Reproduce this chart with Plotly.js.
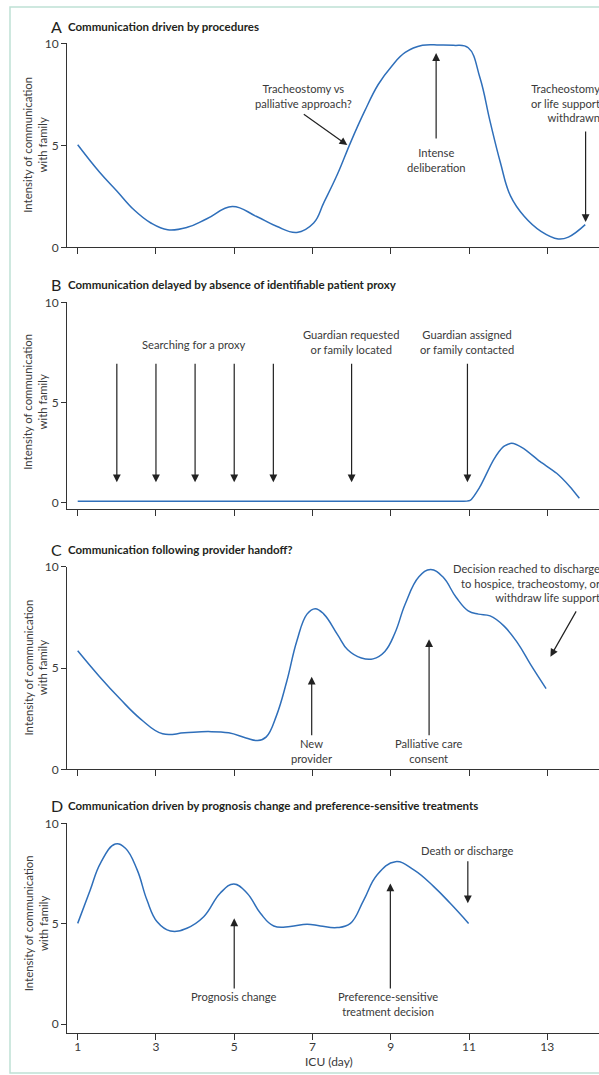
<!DOCTYPE html>
<html>
<head>
<meta charset="utf-8">
<script src="https://cdn.plot.ly/plotly-3.0.1.min.js"></script>
<style>
html,body{margin:0;padding:0;overflow:hidden;background:#fff;}
#chart{width:640px;height:1075px;}
</style>
</head>
<body>
<div id="chart"></div>
<script>
// ---- Data (ICU day vs intensity of communication with family) ----
const dayTicks = [1, 3, 5, 7, 9, 11, 13];
const intensityTicks = [0, 5, 10];

const daysA = [1.0, 1.56, 2.0, 2.43, 2.87, 3.3, 3.8, 4.3, 4.95, 5.56, 6.08, 6.6, 7.03, 7.29, 7.64, 7.98, 8.33, 8.68, 9.03, 9.37, 9.81, 10.24, 10.6, 10.98, 11.28, 11.54, 11.8, 12.06, 12.41, 12.84, 13.28, 13.54, 13.97];
const valsA = [5.03, 3.68, 2.76, 1.85, 1.19, 0.86, 0.98, 1.4, 2.0, 1.52, 1.03, 0.73, 1.19, 2.19, 3.59, 5.17, 6.66, 7.98, 8.89, 9.55, 9.9, 9.92, 9.9, 9.78, 8.31, 6.16, 4.17, 2.52, 1.52, 0.78, 0.41, 0.5, 1.11];

const daysB = [1, 4, 7, 10, 10.7, 11.03, 11.28, 11.62, 11.88, 12.09, 12.39, 12.82, 13.24, 13.58, 13.82];
const valsB = [0.05, 0.05, 0.05, 0.05, 0.05, 0.1, 0.78, 2.1, 2.78, 2.95, 2.7, 2.03, 1.45, 0.78, 0.2];

const daysC = [1.0, 1.56, 2.08, 2.61, 3.17, 3.73, 4.34, 4.86, 5.3, 5.6, 5.82, 6.08, 6.34, 6.6, 6.86, 7.07, 7.29, 7.64, 7.9, 8.25, 8.55, 8.85, 9.11, 9.37, 9.72, 10.02, 10.33, 10.67, 10.98, 11.24, 11.54, 11.89, 12.24, 12.58, 12.97];
const valsC = [5.85, 4.57, 3.48, 2.48, 1.75, 1.8, 1.86, 1.8, 1.55, 1.42, 1.6, 2.65, 4.32, 6.33, 7.66, 7.93, 7.66, 6.65, 5.9, 5.49, 5.45, 5.82, 6.74, 8.16, 9.5, 9.86, 9.5, 8.49, 7.82, 7.66, 7.57, 7.08, 6.24, 5.15, 3.98];

const daysD = [1.0, 1.32, 1.58, 1.96, 2.22, 2.52, 2.77, 3.03, 3.37, 3.79, 4.22, 4.64, 4.99, 5.33, 5.67, 6.01, 6.43, 6.86, 7.2, 7.63, 7.97, 8.31, 8.65, 9.12, 9.59, 10.1, 10.52, 10.99];
const valsD = [5.02, 6.68, 8.01, 8.97, 8.76, 7.68, 6.18, 5.1, 4.64, 4.78, 5.35, 6.52, 6.98, 6.52, 5.52, 4.89, 4.86, 4.98, 4.89, 4.81, 5.02, 6.18, 7.43, 8.09, 7.68, 6.85, 6.02, 5.02];

const panelLetters = ['A', 'B', 'C', 'D'];
const panelTitles = [
  'Communication driven by procedures',
  'Communication delayed by absence of identifiable patient proxy',
  'Communication following provider handoff?',
  'Communication driven by prognosis change and preference-sensitive treatments'
];
const yTitle = 'Intensity of communication<br>with family';
const xTitle = 'ICU (day)';

// Event labels: [panel, text, day, intensity, anchor]
const labels = [
  [0, 'Tracheostomy vs<br>palliative approach?', 6.77, 7.44, 'center'],
  [0, 'Intense<br>deliberation', 10.16, 4.28, 'center'],
  [0, 'Tracheostomy<br>or life support<br>withdrawn', 14.4, 7.07, 'right'],
  [1, 'Searching for a proxy', 3.98, 7.87, 'center'],
  [1, 'Guardian requested<br>or family located', 8.0, 8.0, 'center'],
  [1, 'Guardian assigned<br>or family contacted', 10.96, 8.0, 'center'],
  [2, 'New<br>provider', 6.97, 0.89, 'center'],
  [2, 'Palliative care<br>consent', 9.98, 0.89, 'center'],
  [2, 'Decision reached to discharge<br>to hospice, tracheostomy, or<br>withdraw life support', 14.4, 9.19, 'right'],
  [3, 'Prognosis change', 5.0, 1.37, 'center'],
  [3, 'Preference-sensitive<br>treatment decision', 8.92, 0.99, 'center'],
  [3, 'Death or discharge', 10.96, 8.67, 'center']
];
// Event arrows: [panel, tailDay, tailIntensity, tipDay, tipIntensity]
const arrows = [
  [0, 6.74, 6.58, 7.89, 5.01],
  [0, 10.16, 5.26, 10.16, 9.52],
  [0, 13.98, 5.75, 13.98, 1.24],
  [1, 2, 7.0, 2, 1.0],
  [1, 3, 7.0, 3, 1.0],
  [1, 4, 7.0, 4, 1.0],
  [1, 5, 7.0, 5, 1.0],
  [1, 6, 7.0, 6, 1.0],
  [1, 8, 7.0, 8, 1.0],
  [1, 10.96, 7.0, 10.96, 1.0],
  [2, 6.98, 1.61, 6.98, 4.57],
  [2, 9.98, 1.61, 9.98, 6.42],
  [2, 13.76, 7.87, 13.08, 5.56],
  [3, 5.0, 1.71, 5.0, 5.27],
  [3, 8.99, 1.71, 8.99, 7.01],
  [3, 10.97, 8.18, 10.97, 6.02]
];

// ---- Layout geometry ----
const W = 640, H = 1075;
const fx = p => p / W;
const fy = p => 1 - p / H;
const FONT = 'Lato, "Open Sans", sans-serif';
const TXT = '#3a3a3a';
const LINE = '#2f6fba';

const yDomains = [[fy(247.3), fy(43.3)], [fy(509.3), fy(302.3)], [fy(769.3), fy(566.7)], [fy(1032.7), fy(823.3)]];
const yRanges = [[0, 10], [-0.35, 10], [0, 10], [-0.42, 10]];
const titleY = [27, 284, 549, 805];
const xRange = [0.7266, 15.37];

const series = [[daysA, valsA], [daysB, valsB], [daysC, valsC], [daysD, valsD]];
const traces = series.map((s, i) => ({
  x: s[0], y: s[1], type: 'scatter', mode: 'lines',
  line: {color: LINE, width: 1.5, shape: 'spline', smoothing: i === 1 ? 0.6 : 1.2},
  xaxis: 'x' + (i ? i + 1 : ''), yaxis: 'y' + (i ? i + 1 : ''),
  hoverinfo: 'skip', showlegend: false
}));

const layout = {
  width: W, height: H,
  margin: {l: 0, r: 0, t: 0, b: 0},
  paper_bgcolor: '#fff', plot_bgcolor: 'rgba(0,0,0,0)',
  font: {family: FONT, size: 12, color: TXT},
  showlegend: false,
  annotations: [],
  shapes: [{
    type: 'rect', xref: 'paper', yref: 'paper',
    x0: fx(10), x1: 1.05, y0: fy(1073), y1: fy(7),
    line: {color: '#bfe1d5', width: 1.5}, fillcolor: 'rgba(0,0,0,0)', layer: 'below'
  }]
};

for (let i = 0; i < 4; i++) {
  const sfx = i ? String(i + 1) : '';
  layout['xaxis' + sfx] = {
    domain: [fx(67), 1], range: xRange, anchor: 'y' + sfx,
    showline: true, linecolor: '#333', linewidth: 1,
    ticks: 'outside', ticklen: 6, tickcolor: '#333', tickwidth: 1,
    tickvals: dayTicks, ticktext: dayTicks.map(String),
    showticklabels: i === 3, ticklabelstandoff: -3,
    tickfont: {size: 12, color: TXT, family: FONT},
    showgrid: false, zeroline: false, fixedrange: true
  };
  layout['yaxis' + sfx] = {
    domain: yDomains[i], range: yRanges[i], anchor: 'x' + sfx,
    showline: true, linecolor: '#333', linewidth: 1,
    ticks: 'outside', ticklen: 5, tickcolor: '#333', tickwidth: 1,
    tickvals: intensityTicks, ticktext: intensityTicks.map(String),
    tickfont: {size: 12, color: TXT, family: FONT},
    showgrid: false, zeroline: false, fixedrange: true
  };
  // panel letter and title
  layout.annotations.push({
    xref: 'paper', yref: 'paper', x: fx(49), y: fy(titleY[i]),
    xanchor: 'left', yanchor: 'middle', showarrow: false,
    text: panelLetters[i], font: {size: 16, color: '#231f20', family: FONT}
  });
  layout.annotations.push({
    xref: 'paper', yref: 'paper', x: fx(66), y: fy(titleY[i]),
    xanchor: 'left', yanchor: 'middle', showarrow: false,
    text: '<b>' + panelTitles[i] + '</b>', font: {size: 11.5, color: '#231f20', family: FONT}
  });
  // y title
  layout.annotations.push({
    xref: 'paper', yref: 'y' + sfx, x: fx(35.5), y: 5,
    xanchor: 'center', yanchor: 'middle', showarrow: false, textangle: -90,
    text: yTitle, font: {size: 11.4, color: TXT, family: FONT}
  });
}

labels.forEach(l => {
  const sfx = l[0] ? String(l[0] + 1) : '';
  layout.annotations.push({
    xref: 'x' + sfx, yref: 'y' + sfx, x: l[2], y: l[3],
    xanchor: l[4], yanchor: 'middle', align: l[4], showarrow: false,
    text: l[1], font: {size: 11.2, color: TXT, family: FONT}
  });
});
arrows.forEach(a => {
  const sfx = a[0] ? String(a[0] + 1) : '';
  layout.annotations.push({
    xref: 'x' + sfx, yref: 'y' + sfx, axref: 'x' + sfx, ayref: 'y' + sfx,
    x: a[3], y: a[4], ax: a[1], ay: a[2], text: '',
    showarrow: true, arrowhead: 2, arrowsize: 1.3, arrowwidth: 1.2, arrowcolor: '#222', standoff: 0
  });
});

layout.annotations.push({
  xref: 'paper', yref: 'paper', x: fx(329), y: fy(1061),
  xanchor: 'center', yanchor: 'middle', showarrow: false,
  text: xTitle, font: {size: 12, color: TXT, family: FONT}
});

Plotly.newPlot('chart', traces, layout, {staticPlot: true, displayModeBar: false});
</script>
</body>
</html>
